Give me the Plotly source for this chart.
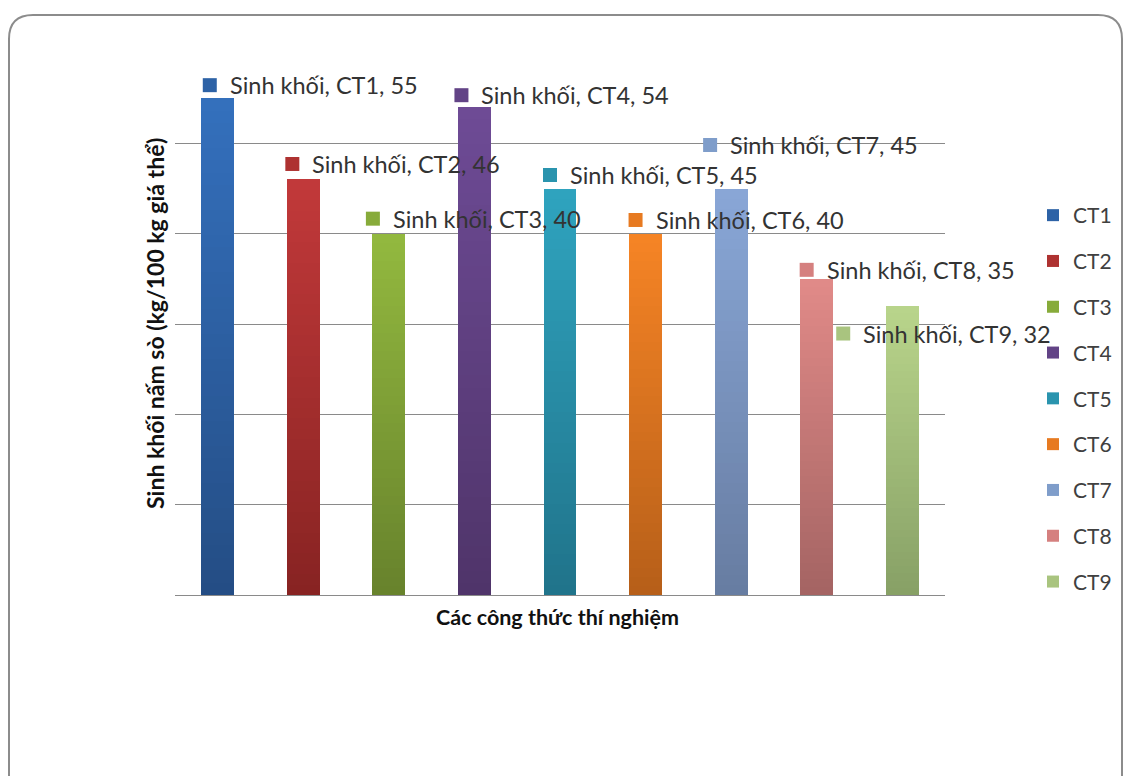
import plotly.graph_objects as go

# Treatments and mushroom biomass (kg / 100 kg substrate)
categories = ["CT1", "CT2", "CT3", "CT4", "CT5", "CT6", "CT7", "CT8", "CT9"]
biomass = [55, 46, 40, 54, 45, 40, 45, 35, 32]
series_name = "Sinh khối"

# Gradient colours per bar (light top, darker bottom)
top_colors = ["#3470bd", "#c2393a", "#93b93f", "#6e4b96", "#2fa4bf",
              "#f68425", "#89a7d7", "#e18a88", "#b9d58b"]
bottom_colors = ["#244d84", "#872322", "#67822c", "#4f3469", "#20738a",
                 "#b65f19", "#677ca1", "#a46463", "#87a066"]
mid_colors = ["#2d62a6", "#ae3231", "#87ab3a", "#624386", "#2a94ae",
              "#e77a21", "#7f9dca", "#d5807f", "#a9c47f"]

# Data-label placement: offset of the key square (px) from bar centre / bar top
label_dx = [-15, -18, -23, -20, -17, -17, -28, -17, -66]
label_dy = [13, 15.5, 15, 12, 13.5, 13.7, 43.5, 9, -27.6]

FONT = "Lato"
N_SEG = 40
BAR_W = 0.385

# pixel layout
L, R, T, B = 175, 180, 53, 181
W, H = 1125, 776
PW, PH = W - L - R, H - T - B


def hex2rgb(h):
    h = h.lstrip("#")
    return tuple(int(h[i:i + 2], 16) for i in (0, 2, 4))


def mix(c0, c1, t):
    a, b = hex2rgb(c0), hex2rgb(c1)
    return "rgb(%d,%d,%d)" % tuple(round(a[i] + (b[i] - a[i]) * t) for i in range(3))


fig = go.Figure()

for i, (cat, val) in enumerate(zip(categories, biomass)):
    step = val / N_SEG
    bases = [step * k for k in range(N_SEG)]
    colors = [mix(bottom_colors[i], top_colors[i], (k + 0.5) / N_SEG) for k in range(N_SEG)]
    fig.add_trace(go.Bar(
        x=[cat] * N_SEG, y=[step] * N_SEG, base=bases, width=BAR_W,
        marker=dict(color=colors, line=dict(width=0)),
        showlegend=False, hoverinfo="skip",
    ))

# legend entries
for i, cat in enumerate(categories):
    fig.add_trace(go.Bar(
        x=[cat], y=[None], name=cat, legendgroup=cat,
        marker=dict(color=mid_colors[i], line=dict(width=0)),
    ))

shapes = []
annotations = []
SQ = 14
for i, (cat, val) in enumerate(zip(categories, biomass)):
    dx, dy = label_dx[i], label_dy[i]
    shapes.append(dict(
        type="rect", xref="x", yref="y", xsizemode="pixel", ysizemode="pixel",
        xanchor=i, yanchor=val,
        x0=dx, x1=dx + SQ, y0=dy - SQ / 2, y1=dy + SQ / 2,
        fillcolor=mid_colors[i], line=dict(width=0),
    ))
    annotations.append(dict(
        x=i, y=val, xref="x", yref="y", showarrow=False,
        xanchor="left", yanchor="middle", xshift=dx + 25, yshift=dy,
        text=f"{series_name}, {cat}, {val}",
        font=dict(family=FONT, size=23.5, color="#333333"),
    ))

# axis titles
annotations.append(dict(
    x=(155 - L) / PW, y=0.5, xref="paper", yref="paper", showarrow=False,
    textangle=-90, xanchor="center", yanchor="middle",
    text="<b>Sinh khối nấm sò (kg/100 kg giá thể)</b>",
    font=dict(family=FONT, size=23, color="#111111"),
))
annotations.append(dict(
    x=(557 - L) / PW, y=-(617 - (H - B)) / PH, xref="paper", yref="paper",
    showarrow=False, xanchor="center", yanchor="middle",
    text="<b>Các công thức thí nghiệm</b>",
    font=dict(family=FONT, size=21.5, color="#111111"),
))


# rounded outer frame
def px(x):
    return (x - L) / PW


def py(y):
    return (H - B - y) / PH


x0, x1, y0, y1, r = 9, 1122, 15, 805, 24
path = (f"M {px(x0)},{py(y1)} L {px(x0)},{py(y0 + r)} "
        f"Q {px(x0)},{py(y0)} {px(x0 + r)},{py(y0)} "
        f"L {px(x1 - r)},{py(y0)} Q {px(x1)},{py(y0)} {px(x1)},{py(y0 + r)} "
        f"L {px(x1)},{py(y1)}")
shapes.append(dict(type="path", xref="paper", yref="paper", path=path,
                   line=dict(color="#8c8c8c", width=2)))

fig.update_layout(
    width=W, height=H,
    margin=dict(l=L, r=R, t=T, b=B, autoexpand=False),
    paper_bgcolor="white", plot_bgcolor="white",
    barmode="overlay",
    bargap=0,
    font=dict(family=FONT, color="#333333"),
    xaxis=dict(showticklabels=False, ticks="", showgrid=False, zeroline=False,
               showline=False, range=[-0.5, 8.5]),
    yaxis=dict(range=[0, 60], dtick=10, showticklabels=False, ticks="",
               showgrid=True, gridcolor="#8a8a8a", gridwidth=1,
               zeroline=True, zerolinecolor="#8a8a8a", zerolinewidth=1,
               showline=False),
    legend=dict(x=(1033 - L) / PW, xanchor="left", y=py(195), yanchor="top",
                font=dict(family=FONT, size=21, color="#404040"),
                tracegroupgap=15.5, itemwidth=30, bgcolor="rgba(0,0,0,0)"),
    shapes=shapes,
    annotations=annotations,
)

fig.write_html("out.html")
